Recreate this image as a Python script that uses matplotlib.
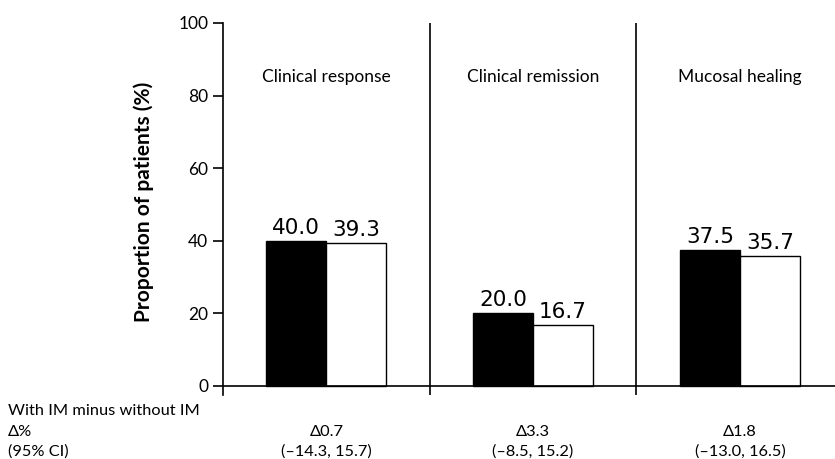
import matplotlib.pyplot as plt
import numpy as np

# 数据
groups = ['Clinical response', 'Clinical remission', 'Mucosal healing']
with_im = [40.0, 20.0, 37.5]
without_im = [39.3, 16.7, 35.7]
delta = ['\u03940.7', '\u03943.3', '\u03941.8']
ci = ['(\u201314.3, 15.7)', '(\u20138.5, 15.2)', '(\u201313.0, 16.5)']
yticks = [0, 20, 40, 60, 80, 100]

txt_font = ['Lato', 'DejaVu Sans']

fig = plt.figure(figsize=(8.35, 4.59), dpi=100)
ax = fig.add_axes([0.267, 0.1394, 0.733, 0.8105])

x = np.arange(len(groups)) + 0.5
w = 0.29
ax.bar(x - w / 2, with_im, w, color='black', edgecolor='black', linewidth=1)
ax.bar(x + w / 2, without_im, w, color='white', edgecolor='black', linewidth=1)

for xi, v in zip(x - w / 2, with_im):
    ax.text(xi, v + 0.8, f'{v:.1f}', ha='center', va='bottom', fontsize=15.5)
for xi, v in zip(x + w / 2, without_im):
    ax.text(xi, v + 0.8, f'{v:.1f}', ha='center', va='bottom', fontsize=15.5)

for xi, g in zip(x, groups):
    ax.text(xi, 85, g, ha='center', va='center', fontsize=12.5, family=txt_font)

# 分隔线
ax.vlines([1, 2], -2.5, 100.5, color='black', linewidth=1.2)
ax.axhline(0, color='black', linewidth=1.2)

ax.set_xlim(0, 2.96)
ax.set_ylim(-2.5, 100)
ax.set_xticks([])
ax.set_yticks(yticks)
for lab in ax.get_yticklabels():
    lab.set_family(txt_font)
    lab.set_fontsize(12.5)
ax.tick_params(axis='y', length=7, width=1.2)
for s in ['top', 'right', 'bottom']:
    ax.spines[s].set_visible(False)
ax.spines['left'].set_linewidth(1.2)
ax.spines['left'].set_bounds(-2.5, 100)

# y轴标题
fig.text(144 / 835, 1 - 202 / 459, 'Proportion of patients (%)', fontsize=15,
         fontweight='bold', family=txt_font, rotation=90, ha='center', va='center')

# 底部文字
fs = 11.8
fig.text(8 / 835, 1 - 411 / 459, 'With IM minus without IM', fontsize=fs,
         family=txt_font, va='center')
fig.text(8 / 835, 1 - 432 / 459, '\u0394%', fontsize=fs, family=txt_font, va='center')
fig.text(8 / 835, 1 - 452 / 459, '(95% CI)', fontsize=fs, family=txt_font, va='center')
for xi, d, c in zip(x, delta, ci):
    xf = ax.transData.transform((xi, 0))[0] / fig.bbox.width
    fig.text(xf, 1 - 432 / 459, d, fontsize=fs, family=txt_font, ha='center', va='center')
    fig.text(xf, 1 - 452 / 459, c, fontsize=fs, family=txt_font, ha='center', va='center')

fig.savefig('out.png', dpi=100)
